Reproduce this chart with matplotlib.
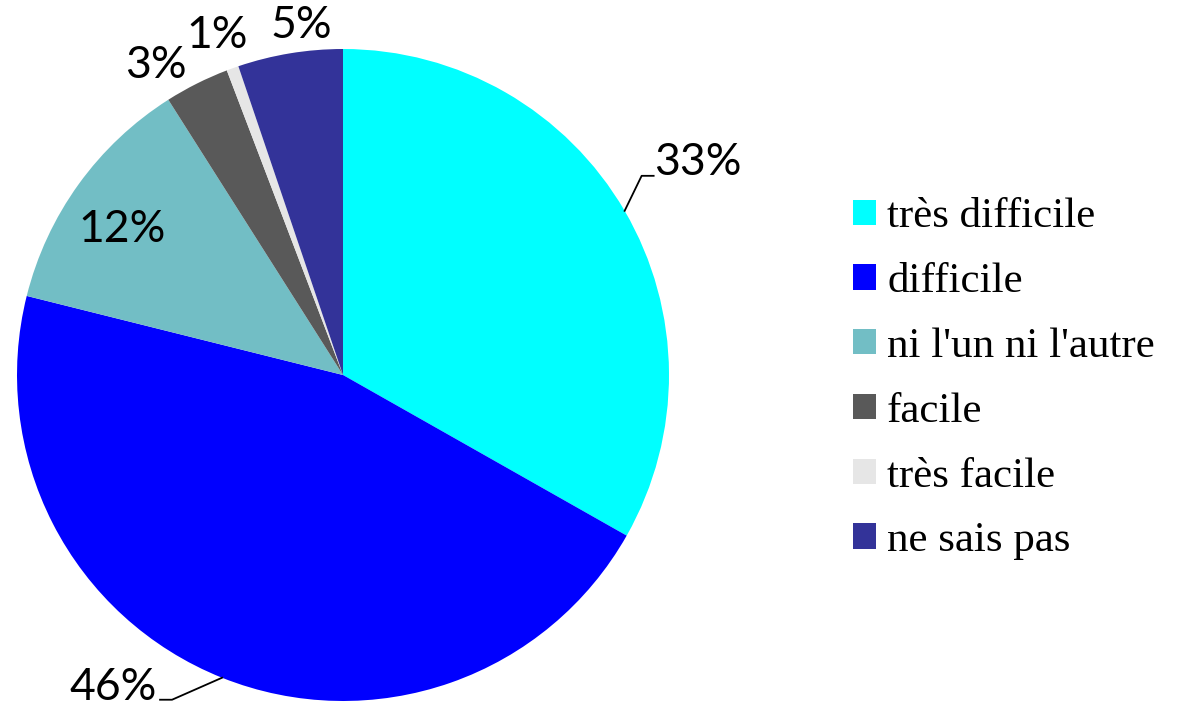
import numpy as np
import matplotlib.pyplot as plt
from matplotlib.patches import Patch

# data
categories = ["très difficile", "difficile", "ni l'un ni l'autre",
              "facile", "très facile", "ne sais pas"]
shares = [33.2, 45.7, 12.1, 3.2, 0.6, 5.2]
colors = ["#00FFFF", "#0000FF", "#72BEC5", "#595959", "#E6E6E6", "#333399"]

W, H = 1186, 708
fig = plt.figure(figsize=(W / 100, H / 100), dpi=100)
R = 326  # pie radius in px
cx, cy = 343, H - 375
ax = fig.add_axes([(cx - R) / W, (cy - R) / H, 2 * R / W, 2 * R / H])

wedges, _ = ax.pie(shares, colors=colors, startangle=90, counterclock=False,
                   radius=1, wedgeprops=dict(linewidth=0))
ax.set_xlim(-1, 1)
ax.set_ylim(-1, 1)
ax.set_aspect("equal")
ax.axis("off")

px = 1 / R  # one pixel in data units
lab_font = dict(family="Lato", fontsize=32, color="black")

# label placement: (radius, angle tweak in degrees) for labels without leader
label_r = [None, None, 0.81, 1.11, 1.11, 1.08]
label_dtheta = [0, 0, 2.5, 4.5, 0.6, -2.5]

for i, w in enumerate(wedges):
    mid = np.deg2rad((w.theta1 + w.theta2) / 2)
    txt = f"{shares[i]:.0f}%"
    ex, ey = np.cos(mid), np.sin(mid)
    if i == 0:
        # leader line up-right then horizontal
        bx, by = ex + 17 * px, ey + 35 * px
        fx, fy = bx + 12 * px, by
        ax.plot([ex, bx, fx], [ey, by, fy], color="black", lw=1.3, clip_on=False)
        ax.text(fx, fy + 13 * px, txt, ha="left", va="center", clip_on=False, **lab_font)
    elif i == 1:
        bx, by = ex - 50 * px, ey - 22 * px
        fx, fy = bx - 12 * px, by
        ax.plot([ex, bx, fx], [ey, by, fy], color="black", lw=1.3, clip_on=False)
        ax.text(fx - 3 * px, fy + 12 * px, txt, ha="right", va="center", clip_on=False, **lab_font)
    else:
        a = mid + np.deg2rad(label_dtheta[i])
        ax.text(label_r[i] * np.cos(a), label_r[i] * np.sin(a), txt,
                ha="center", va="center", clip_on=False, **lab_font)

handles = [Patch(facecolor=c, edgecolor="none") for c in colors]
fig.legend(handles, categories, loc="upper left",
           bbox_to_anchor=(853 / W, 1 - 198 / H),
           frameon=False, prop=dict(family="Liberation Serif", size=31),
           handlelength=0.53, handleheight=0.53, handletextpad=0.26,
           labelspacing=0.61, borderpad=0, borderaxespad=0)

fig.savefig("out.png", dpi=100)
